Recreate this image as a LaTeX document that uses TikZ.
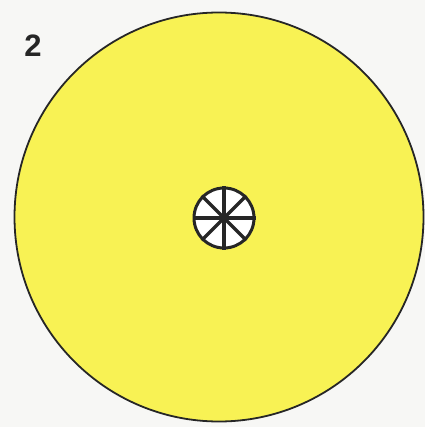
\documentclass[tikz,border=0pt]{standalone}
\usepackage{fontspec}
\setmainfont{Liberation Sans}
\usepackage{xcolor}
\usepackage{tikz}
\usetikzlibrary{positioning}
\definecolor{paper}{RGB}{247,247,245}
\definecolor{discfill}{RGB}{248,242,84}
\definecolor{inkline}{RGB}{38,38,38}

\begin{document}
\begin{tikzpicture}[
  x=1pt,y=-1pt,
  disc/.style={circle,draw=inkline,line width=1.8pt,fill=discfill,
               minimum size=409pt,inner sep=0pt},
  hubblk/.style={circle,draw=inkline,line width=3pt,fill=white,
                 minimum size=60pt,inner sep=0pt},
  spk/.style={draw=inkline,line width=3.2pt},
  numlbl/.style={text=inkline,font=\fontsize{31}{31}\selectfont\bfseries,inner sep=0pt}
]
\fill[paper] (0,0) rectangle (425,427);
\useasboundingbox (0,0) rectangle (425,427);

\node[disc] (disc) at (219,217) {};
\node[hubblk] (hub) at (224,218) {};
\foreach \a/\b in {0/180,45/225,90/270,135/315}
  \draw[spk] (hub.\a) -- (hub.\b);

\node[numlbl] (num) at (33,45.5) {2};
\end{tikzpicture}
\end{document}
